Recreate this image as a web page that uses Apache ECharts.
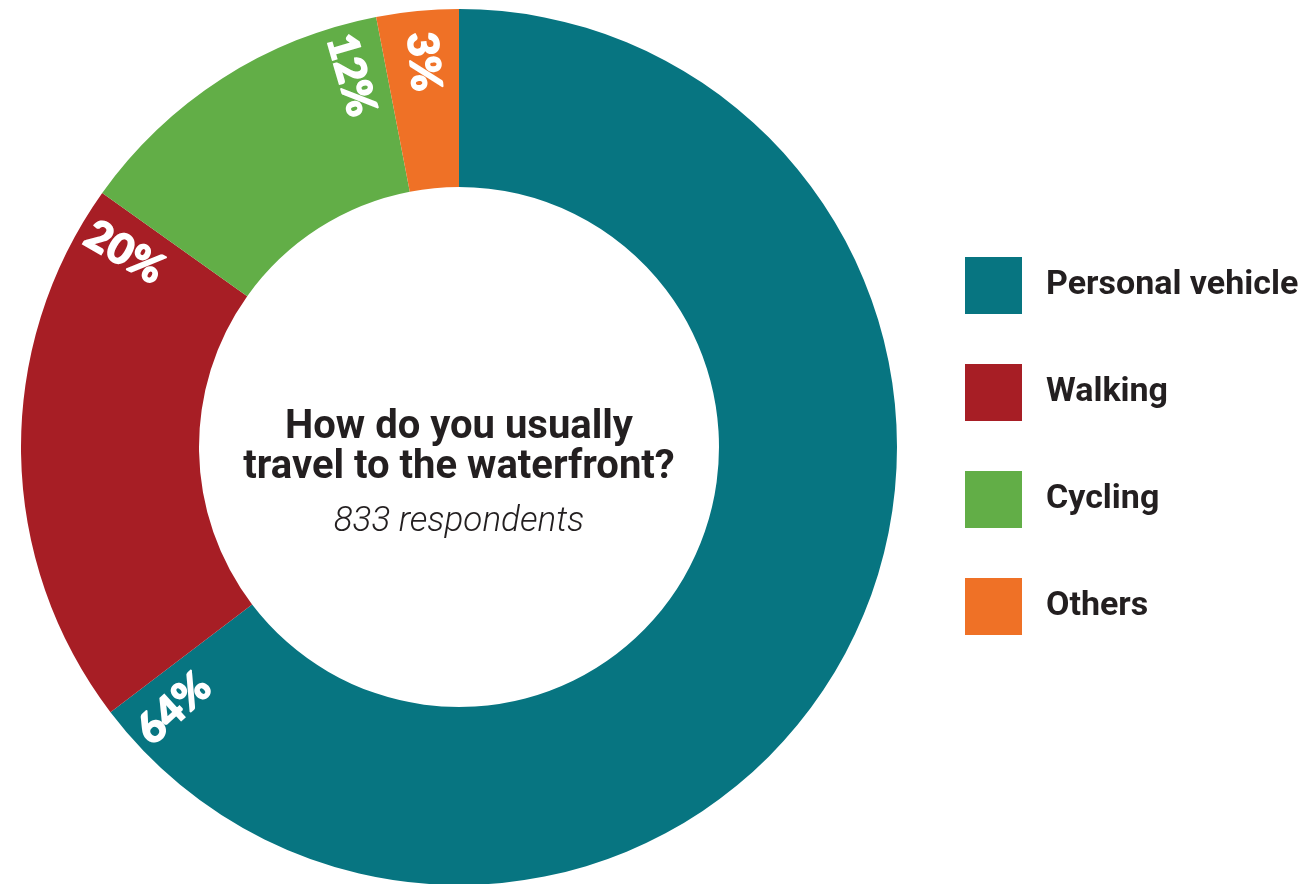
<!DOCTYPE html>
<html>
<head>
<meta charset="utf-8">
<script src="https://cdn.jsdelivr.net/npm/echarts@6/dist/echarts.min.js"></script>
<style>
html,body{margin:0;padding:0;background:#fff;}
#chart{width:1309px;height:884px;}
</style>
</head>
<body>
<div id="chart"></div>
<script>
// Data
const categories = ['Personal vehicle', 'Walking', 'Cycling', 'Others'];
const values = [64, 20, 12, 3];
const pctLabels = ['64%', '20%', '12%', '3%'];
const colors = ['#077581', '#A71E25', '#62AE47', '#EF7126'];
const titleLines = ['How do you usually', 'travel to the waterfront?'];
const subtitle = '833 respondents';

const CENTER = [459, 447];
const LABEL_SPAN = 2.9; // width of the label slot at the end of each slice (in value units)

const mainData = categories.map((c, i) => ({ name: c, value: values[i], itemStyle: { color: colors[i] } }));
const labelData = [];
values.forEach((v, i) => {
  const w = Math.min(v, LABEL_SPAN);
  labelData.push({ name: 'pad' + i, value: v - w, label: { show: false } });
  labelData.push({ name: 'lbl' + i, value: w, label: { show: true, formatter: pctLabels[i] } });
});

const chart = echarts.init(document.getElementById('chart'), null, { renderer: 'canvas' });
chart.setOption({
  animation: false,
  backgroundColor: '#ffffff',
  legend: {
    orient: 'vertical',
    left: 965,
    top: 257,
    padding: 0,
    data: categories,
    icon: 'rect',
    itemWidth: 57,
    itemHeight: 57,
    itemGap: 50,
    selectedMode: false,
    textStyle: {
      fontFamily: 'Roboto',
      fontWeight: 'bold',
      fontSize: 34,
      color: '#231f20',
      padding: [0, 0, 0, 19]
    }
  },
  graphic: [
    {
      type: 'text',
      x: CENTER[0], y: 408,
      style: { text: titleLines[0], textAlign: 'center', textVerticalAlign: 'top', font: 'bold 40px Roboto', fill: '#231f20' }
    },
    {
      type: 'text',
      x: CENTER[0], y: 448,
      style: { text: titleLines[1], textAlign: 'center', textVerticalAlign: 'top', font: 'bold 40px Roboto', fill: '#231f20' }
    },
    {
      type: 'text',
      x: CENTER[0], y: 505,
      style: { text: subtitle, textAlign: 'center', textVerticalAlign: 'top', font: 'italic 300 35px Roboto', fill: '#231f20' }
    }
  ],
  series: [
    {
      type: 'pie',
      center: CENTER,
      radius: [260, 438],
      startAngle: 90,
      clockwise: true,
      avoidLabelOverlap: false,
      silent: true,
      label: { show: false },
      labelLine: { show: false },
      emphasis: { disabled: true },
      data: mainData
    },
    {
      type: 'pie',
      center: CENTER,
      radius: [330, 438],
      startAngle: 90,
      clockwise: true,
      avoidLabelOverlap: false,
      silent: true,
      itemStyle: { color: 'rgba(0,0,0,0)' },
      label: {
        position: 'inside',
        rotate: 'radial',
        color: '#ffffff',
        fontFamily: 'Lato',
        fontWeight: 900,
        fontSize: 42,
        textBorderColor: '#ffffff',
        textBorderWidth: 1.5
      },
      labelLine: { show: false },
      emphasis: { disabled: true },
      data: labelData
    }
  ]
});
</script>
</body>
</html>
